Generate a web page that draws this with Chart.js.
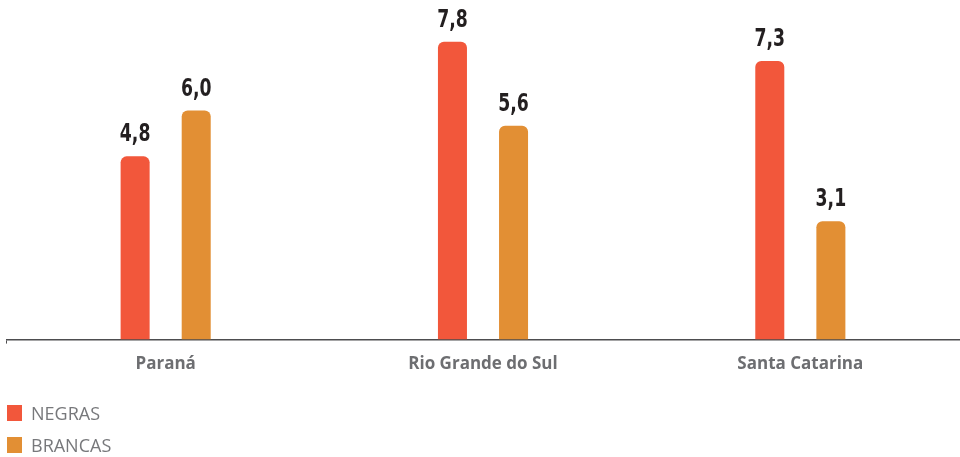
<!DOCTYPE html>
<html>
<head>
<meta charset="utf-8">
<script src="https://cdn.jsdelivr.net/npm/chart.js@4.4.1/dist/chart.umd.min.js"></script>
<style>
  html, body { margin: 0; padding: 0; background: #fff; }
  #wrap { position: relative; width: 960px; height: 457px; }
  #legenda { position: absolute; left: 7px; top: 404px; font-family: "Open Sans", sans-serif; font-size: 18px; color: #77787b; }
  #legenda div { display: flex; align-items: center; height: 17px; margin-bottom: 15px; }
  #legenda span.q { width: 15px; height: 16px; margin-right: 9px; display: inline-block; }
</style>
</head>
<body>
<div id="wrap">
  <canvas id="grafico" width="960" height="457"></canvas>
  <div id="legenda"></div>
</div>
<script>
// Dados do gráfico
const estados = ['Paraná', 'Rio Grande do Sul', 'Santa Catarina'];
const negras = [4.8, 7.8, 7.3];
const brancas = [6.0, 5.6, 3.1];
const series = ['NEGRAS', 'BRANCAS'];
const cores = ['#f2573b', '#e28f34'];

// Plugin simples para escrever os valores acima das barras
const rotulos = {
    id: 'rotulos',
    afterDatasetsDraw(chart) {
        const ctx = chart.ctx;
        chart.data.datasets.forEach((ds, i) => {
            chart.getDatasetMeta(i).data.forEach((bar, j) => {
                const txt = ds.data[j].toFixed(1).replace('.', ',');
                ctx.save();
                // fonte condensada: estreita um pouco na horizontal
                ctx.translate(bar.x, bar.y - 15);
                ctx.scale(0.8, 1);
                ctx.font = 'bold 24px "DejaVu Sans Condensed", "Open Sans", sans-serif';
                ctx.fillStyle = '#231f20';
                ctx.textAlign = 'center';
                ctx.textBaseline = 'alphabetic';
                ctx.fillText(txt, 0, 0);
                ctx.restore();
            });
        });
    }
};

const ctx = document.getElementById('grafico').getContext('2d');

new Chart(ctx, {
    type: 'bar',
    data: {
        labels: estados,
        datasets: [
            { label: series[0], data: negras, backgroundColor: cores[0] },
            { label: series[1], data: brancas, backgroundColor: cores[1] }
        ]
    },
    options: {
        responsive: false,
        animation: false,
        layout: { padding: { top: 7.5, left: 7, right: 1, bottom: 73 } },
        datasets: {
            bar: {
                categoryPercentage: 0.385,
                barPercentage: 0.475,
                borderRadius: { topLeft: 6, topRight: 6 },
                borderSkipped: 'bottom'
            }
        },
        plugins: {
            legend: { display: false },
            tooltip: { enabled: false }
        },
        scales: {
            y: { display: false, min: 0, max: 8.7 },
            x: {
                border: { display: true, color: '#4d4d4f', width: 1.5 },
                grid: {
                    drawOnChartArea: false,
                    drawTicks: true,
                    tickLength: 4,
                    color: c => (c.index === 0 || c.index === estados.length) ? '#4d4d4f' : 'rgba(0,0,0,0)'
                },
                ticks: {
                    color: '#6d6e71',
                    padding: 10,
                    font: { family: '"Open Sans", sans-serif', size: 17, weight: 'bold' }
                }
            }
        }
    },
    plugins: [rotulos]
});

// Legenda em HTML (vertical, à esquerda)
const leg = document.getElementById('legenda');
series.forEach((s, i) => {
    leg.innerHTML += `<div><span class="q" style="background:${cores[i]}"></span>${s}</div>`;
});
</script>
</body>
</html>
